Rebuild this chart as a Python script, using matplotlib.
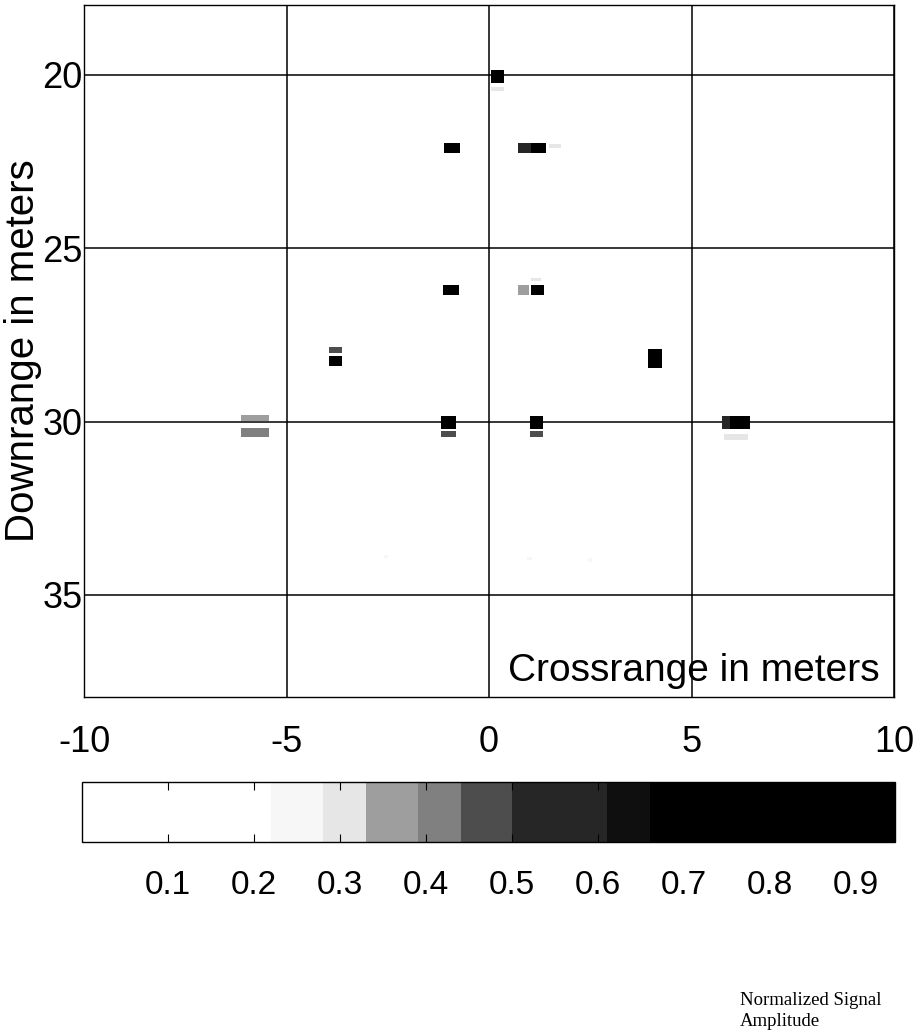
import numpy as np
import matplotlib
matplotlib.use("Agg")
import matplotlib.pyplot as plt
from matplotlib.colors import ListedColormap, BoundaryNorm
from matplotlib.cm import ScalarMappable

# reflector returns: centre (crossrange, downrange), extent, normalized amplitude
blob_x = [0.21, 0.21, -0.92, 0.88, 1.22, 1.63, -0.94, 0.85, 1.20, 1.15,
          -3.79, -3.79, -1.00, -1.00, 1.18, 1.18, 4.09, 5.85, 6.20, 6.10,
          -5.78, -5.78, -2.55, 1.00, 2.50]
blob_y = [20.05, 20.40, 22.10, 22.10, 22.10, 22.05, 26.20, 26.20, 26.20, 25.90,
          27.94, 28.25, 30.03, 30.35, 30.03, 30.35, 28.17, 30.03, 30.03, 30.45,
          29.90, 30.32, 33.90, 33.95, 34.00]
blob_w = [0.34, 0.30, 0.40, 0.32, 0.37, 0.30, 0.39, 0.29, 0.32, 0.25,
          0.34, 0.34, 0.39, 0.39, 0.32, 0.32, 0.35, 0.20, 0.50, 0.60,
          0.68, 0.68, 0.10, 0.10, 0.10]
blob_h = [0.38, 0.10, 0.29, 0.29, 0.29, 0.12, 0.29, 0.29, 0.29, 0.10,
          0.18, 0.30, 0.40, 0.17, 0.40, 0.17, 0.55, 0.37, 0.37, 0.17,
          0.15, 0.24, 0.10, 0.10, 0.10]
blob_amp = [0.90, 0.28, 0.90, 0.55, 0.90, 0.28, 0.90, 0.37, 0.90, 0.28,
            0.45, 0.90, 0.90, 0.45, 0.90, 0.45, 0.90, 0.55, 0.90, 0.28,
            0.35, 0.40, 0.27, 0.27, 0.27]

x_ticks = [-10, -5, 0, 5, 10]
y_ticks = [20, 25, 30, 35]
cbar_ticks = [0.1, 0.2, 0.3, 0.4, 0.5, 0.6, 0.7, 0.8, 0.9]

# stepped grey scale as in the printed bar
bounds = [0.0, 0.22, 0.28, 0.33, 0.39, 0.44, 0.50, 0.61, 0.66, 0.945]
greys = [1.0, 0.97, 0.90, 0.62, 0.50, 0.30, 0.15, 0.06, 0.0]
cmap = ListedColormap([(g, g, g) for g in greys])
norm = BoundaryNorm(bounds, cmap.N)

plt.rcParams["axes.unicode_minus"] = False
sans = "Liberation Sans"

fig = plt.figure(figsize=(9.24, 10.30), dpi=100)
ax = fig.add_axes([84/924, 1-697/1030, 810/924, 692/1030])

ax.set_xlim(-10, 10)
ax.set_ylim(37.95, 17.98)
ax.set_xticks(x_ticks)
ax.set_yticks(y_ticks)
ax.grid(True, color="black", linewidth=1.1)
ax.set_axisbelow(True)
ax.tick_params(length=0, labelsize=26)
ax.tick_params(axis="x", pad=20)
ax.tick_params(axis="y", pad=1)
for lab in ax.get_xticklabels() + ax.get_yticklabels():
    lab.set_fontfamily(sans)
for s in ax.spines.values():
    s.set_linewidth(1.0)

h = np.array(blob_h)
ax.bar(blob_x, h, width=blob_w, bottom=np.array(blob_y) - h/2,
       color=cmap(norm(np.array(blob_amp))), linewidth=0, zorder=3)

ax.set_ylabel("Downrange in meters", fontsize=29, fontfamily=sans, labelpad=0)
ax.text(0.982, 0.012, "Crossrange in meters", transform=ax.transAxes,
        ha="right", va="bottom", fontsize=28, fontfamily=sans)

cax = fig.add_axes([82/924, 1-842/1030, 813/924, 60/1030])
sm = ScalarMappable(norm=norm, cmap=cmap)
cb = fig.colorbar(sm, cax=cax, orientation="horizontal", spacing="proportional",
                  ticks=cbar_ticks)
cb.ax.minorticks_off()
cb.outline.set_linewidth(1.0)
cax.set_xlim(0, 0.945)
cax.tick_params(direction="in", top=True, bottom=True, length=6,
                labelsize=24, pad=20)
cax.set_xticklabels([str(t) for t in cbar_ticks], fontfamily=sans)

fig.text(740/924, 1-1011/1030, "Normalized Signal\nAmplitude",
         fontsize=13.5, fontfamily="Liberation Serif", ha="left", va="center",
         linespacing=1.35)

fig.savefig("out.png", dpi=100)
